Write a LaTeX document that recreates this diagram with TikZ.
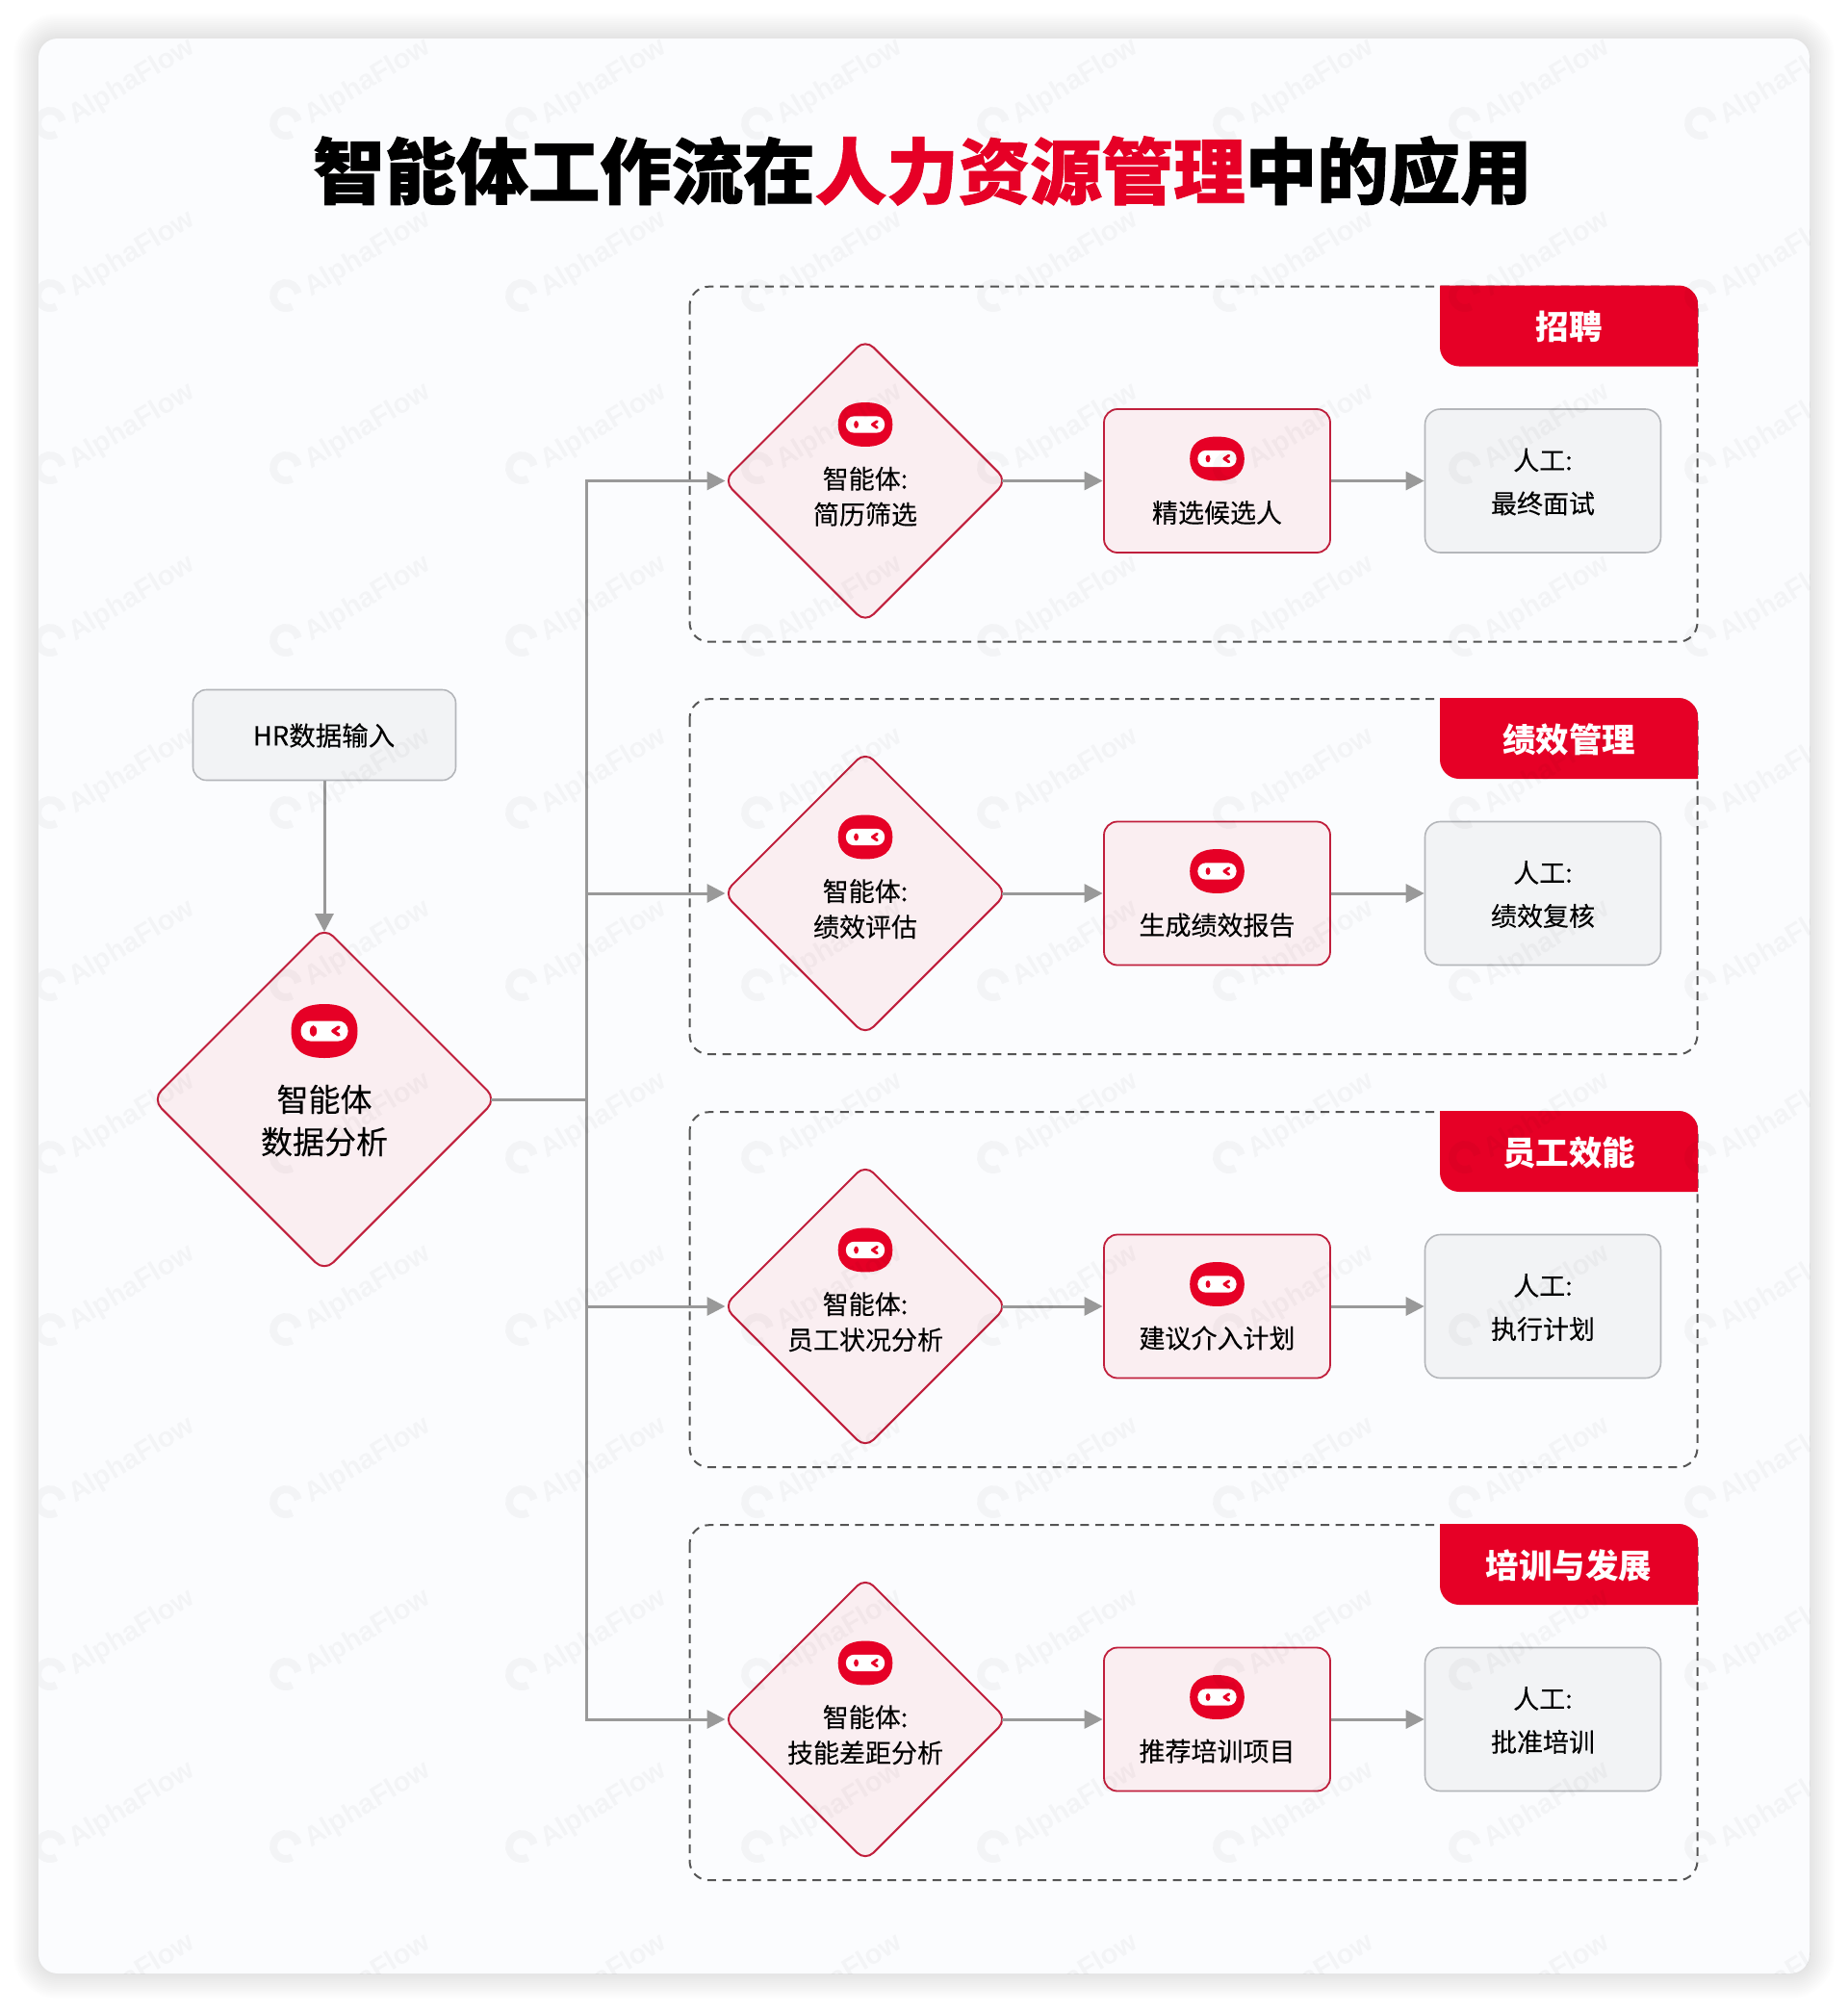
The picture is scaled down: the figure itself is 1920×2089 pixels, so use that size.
\documentclass[tikz,border=0pt]{standalone}
\usepackage{fontspec}
\setmainfont{Noto Sans CJK SC}[FakeBold=0.12,BoldFeatures={FakeBold=0}]
\newfontfamily\titlefont{Noto Sans CJK SC}[BoldFeatures={FakeBold=1.2}]
\newfontfamily\wmfont{Liberation Sans}
\usetikzlibrary{shapes.geometric,arrows.meta}
\definecolor{brand}{HTML}{E60026}
\definecolor{edgered}{HTML}{C01F3C}
\definecolor{pinkfill}{HTML}{FAEEF1}
\definecolor{greyfill}{HTML}{F2F3F5}
\definecolor{greyedge}{HTML}{B4B6BA}
\definecolor{flow}{HTML}{999999}
\definecolor{cardbg}{HTML}{FBFCFE}
\definecolor{dash}{HTML}{555555}
\tikzset{
  x=1pt,y=-1pt,
  bigdiamond/.style={shape=diamond,draw=edgered,fill=pinkfill,line width=2pt,rounded corners=13pt,inner sep=0pt,minimum width=358pt,minimum height=358pt},
  agentdiamond/.style={shape=diamond,draw=edgered,fill=pinkfill,line width=2pt,rounded corners=12pt,inner sep=0pt,minimum width=295pt,minimum height=295pt},
  agentbox/.style={shape=rectangle,draw=edgered,fill=pinkfill,line width=1.8pt,rounded corners=14pt,inner sep=0pt,minimum width=235pt,minimum height=149pt},
  humanbox/.style={shape=rectangle,draw=greyedge,fill=greyfill,line width=1.6pt,rounded corners=16pt,inner sep=0pt,minimum width=245pt,minimum height=149pt},
  inputbox/.style={shape=rectangle,draw=greyedge,fill=greyfill,line width=1.6pt,rounded corners=14pt,inner sep=0pt,minimum width=273pt,minimum height=94pt},
  label/.style={align=center,inner sep=0pt,text=black,font=\fontsize{27}{37}\selectfont},
  humanlabel/.style={align=center,inner sep=0pt,text=black,font=\fontsize{27}{45}\selectfont},
  biglabel/.style={align=center,inner sep=0pt,text=black,font=\fontsize{33}{44}\selectfont},
  taglabel/.style={inner sep=0pt,text=white,font=\fontsize{34.5}{40}\selectfont\bfseries},
  flowline/.style={draw=flow,line width=3pt},
  flowarrow/.style={flowline,-{Triangle[length=19pt,width=19pt]}},
  groupbox/.style={draw=dash,line width=2pt,dash pattern=on 9pt off 6.6pt,rounded corners=20pt}
}
\newcommand\roboticon[3]{%
  \begin{scope}[shift={(#1,#2)},scale=#3]
    \fill[brand] (-34.5,0) .. controls (-34.5,-19) and (-22,-28) .. (0,-28)
       .. controls (22,-28) and (34.5,-19) .. (34.5,0)
       .. controls (34.5,19) and (22,28) .. (0,28)
       .. controls (-22,28) and (-34.5,19) .. (-34.5,0) -- cycle;
    \fill[white,rounded corners=#3*10pt] (-24.5,-10.5) rectangle (24.5,10.5);
    \fill[brand] (-11.5,0) ellipse [x radius=#3*3.6pt,y radius=#3*5.8pt];
    \draw[brand,line width=#3*3.6pt,line join=round,line cap=round] (15,-4) -- (9,0) -- (15,4);
  \end{scope}}
\begin{document}
\begin{tikzpicture}
\useasboundingbox (0,0) rectangle (1920,2089);
\fill[white] (0,0) rectangle (1920,2089);
% soft shadow of the card
\foreach \s in {2,4,...,26}
  \fill[black,opacity=0.006,rounded corners=20pt+\s*1pt] (40-\s,40-\s) rectangle (1880+\s,2050+\s);
\fill[cardbg,rounded corners=20pt] (40,40) rectangle (1880,2050);
% title
\node[inner sep=0pt,font=\fontsize{74.5}{80}\selectfont\titlefont\bfseries] (title) at (958.5,177.5) {智能体工作流在\textcolor{brand}{人力资源管理}中的应用};
% left column
\node[inputbox] (input) at (337,763.5) {};
\node[inner sep=0pt,text=black,font=\fontsize{27.5}{30}\selectfont] (inputtext) at (336.5,764) {HR数据输入};
\coordinate (trunk) at (609,1142);
% groups
\foreach \i/\ra/\rb/\rc/\tagtext/\y in {
  1/简历筛选/精选候选人/最终面试/招聘/499.5,
  2/绩效评估/生成绩效报告/绩效复核/绩效管理/928,
  3/员工状况分析/建议介入计划/执行计划/员工效能/1357,
  4/技能差距分析/推荐培训项目/批准培训/培训与发展/1786}{
  \draw[groupbox] (716.5,\y-201.8) rectangle (1763.5,\y+167.2);
  \fill[brand] (1496,\y-203) -- (1744,\y-203) .. controls (1755,\y-203) and (1764,\y-194) .. (1764,\y-183)
     -- (1764,\y-119) -- (1516,\y-119) .. controls (1505,\y-119) and (1496,\y-128) .. (1496,\y-139) -- cycle;
  \node[taglabel] (tag\i) at (1630,\y-160) {\tagtext};
  \node[agentdiamond] (d\i) at (899,\y) {};
  \roboticon{899}{\y-58.5}{0.82}
  \node[label] (dt\i) at (899,\y+16.2) {智能体:\\\ra};
  \node[agentbox] (a\i) at (1264.5,\y) {};
  \roboticon{1264.5}{\y-23}{0.82}
  \node[label] (at\i) at (1264.5,\y+33) {\rb};
  \node[humanbox] (h\i) at (1603,\y) {};
  \node[humanlabel] (ht\i) at (1603,\y+1) {人工:\\\rc};
  \draw[flowarrow,shorten <=-7pt,shorten >=0.5pt] (d\i.east) -- (a\i.west);
  \draw[flowarrow] (a\i.east) -- (h\i.west);
  \draw[flowarrow,shorten >=-3pt] (trunk) |- (d\i.west);
}
% big diamond
\node[bigdiamond] (d0) at (337,1142) {};
\roboticon{337}{1071}{1}
\node[biglabel] (dt0) at (337,1164) {智能体\\数据分析};
\draw[flowarrow,shorten >=-6pt] (input.south) -- (d0.north);
\draw[flowline,shorten <=-7pt] (d0.east) -- (trunk);
% watermark
\begin{scope}
  \clip[rounded corners=20pt] (40,40) rectangle (1880,2050);
  \foreach \cx in {52,297,542,787,1032,1277,1522,1767}
    \foreach \cy in {128,307,486,665,844,1023,1202,1381,1560,1739,1918,2097}{
      \draw[black,opacity=0.03,line width=8pt] (\cx,\cy) ++(10:13pt) arc [start angle=10,end angle=300,radius=13pt];
      \node[black,opacity=0.03,rotate=31,inner sep=0pt,font=\fontsize{29}{30}\selectfont\wmfont\bfseries] at (\cx+85,\cy-43) {AlphaFlow};
    }
\end{scope}
\end{tikzpicture}
\end{document}
